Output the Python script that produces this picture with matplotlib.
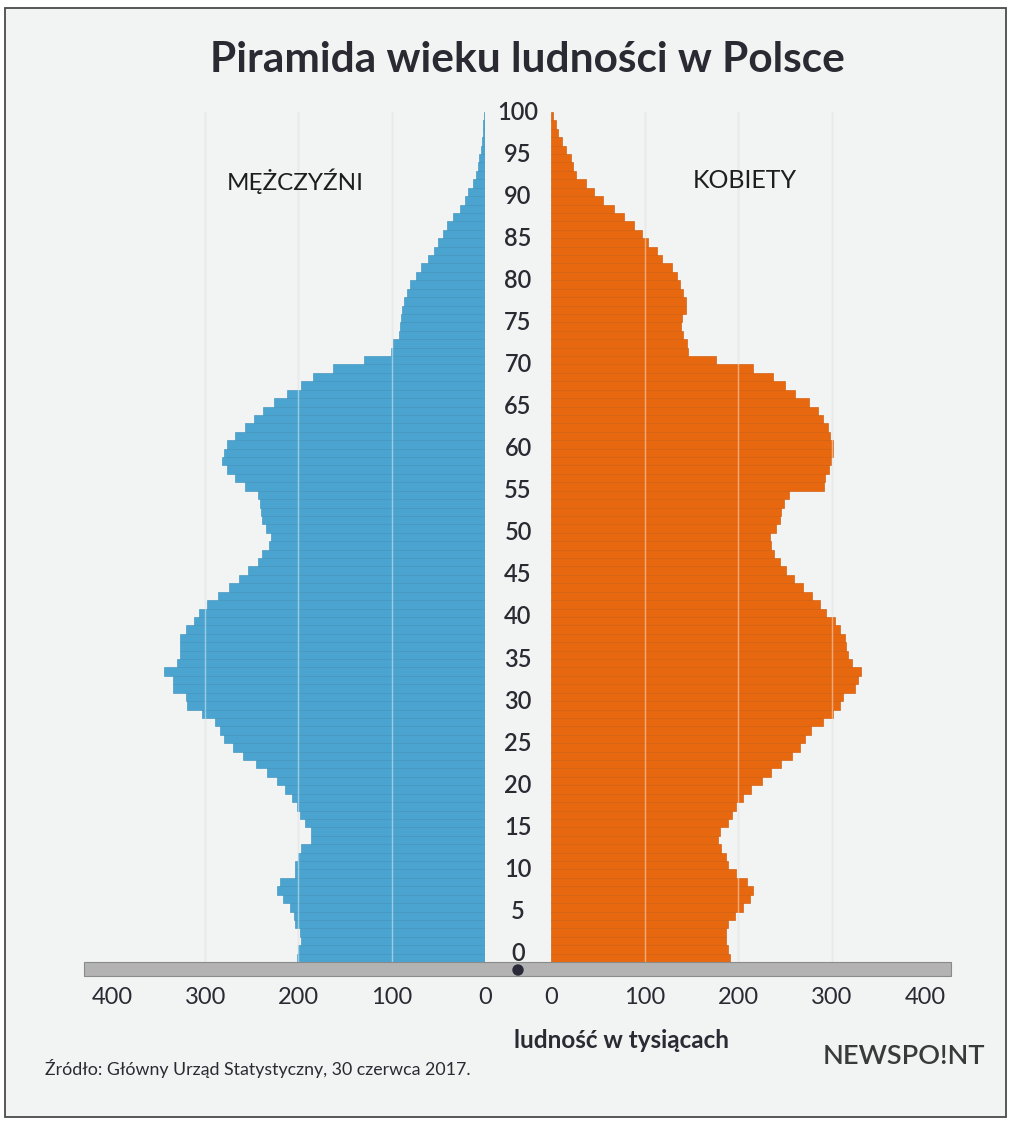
import numpy as np
import matplotlib.pyplot as plt
from matplotlib.patches import Rectangle, Circle
from matplotlib.transforms import blended_transform_factory

plt.rcParams['font.family'] = ['Lato', 'DejaVu Sans']

# wiek 0..100
ages = list(range(0, 101))

# ludnosc w tysiacach (odczyt z wykresu), wiek 0..100
men = [202, 200, 197, 198, 204, 205, 209, 217, 223, 220,
       204, 204, 200, 197, 187, 187, 193, 198, 202, 207,
       214, 223, 234, 246, 259, 270, 280, 284, 290, 303,
       320, 321, 335, 335, 344, 330, 327, 327, 327, 321,
       312, 307, 298, 286, 275, 264, 254, 243, 239, 232,
       230, 235, 239, 240, 241, 243, 257, 268, 277, 282,
       280, 277, 268, 257, 248, 238, 226, 212, 197, 184,
       163, 130, 101, 99, 92, 91, 90, 89, 87, 84,
       80, 74, 69, 61, 55, 50, 45, 41, 34, 27,
       21, 18, 12.5, 10, 8, 6, 4.5, 3.5, 2.5, 1.8,
       1]
women = [191, 189, 187, 187, 189, 196, 205, 212, 216, 209,
         198, 189, 187, 182, 178, 180, 189, 193, 198, 205,
         214, 225, 235, 246, 257, 266, 271, 278, 290, 301,
         308, 312, 324, 328, 331, 321, 317, 315, 314, 308,
         303, 294, 287, 279, 269, 259, 251, 244, 238, 235,
         234, 240, 244, 246, 249, 254, 291, 292, 297, 299,
         301, 301, 298, 296, 290, 285, 275, 260, 250, 237,
         216, 176, 146, 145, 141, 139, 140, 144, 144, 141,
         138, 134, 129, 119, 113, 104, 97, 89, 78, 67,
         56, 46, 37, 27, 24, 21, 16, 12, 8, 5,
         2]

age_ticks = list(range(0, 101, 5))
x_ticks = [0, 100, 200, 300, 400]
grid_vals = [100, 200, 300]

BG = '#f2f3f3'
BLUE = '#4ba4cf'
ORANGE = '#e8680f'
TXT = '#2b2a33'
W, H = 1011, 1121


def box(x0, y0, x1, y1):
    return [x0 / W, 1 - y1 / H, (x1 - x0) / W, (y1 - y0) / H]


fig = plt.figure(figsize=(W / 100, H / 100), dpi=100)
fig.patch.set_facecolor('white')
fig.patches.append(Rectangle((0.005, 0.004), 0.99, 0.989, transform=fig.transFigure,
                             facecolor=BG, edgecolor='#4a4a4a', lw=1.3, zorder=-10))

axL = fig.add_axes(box(84, 112, 485, 962))
axR = fig.add_axes(box(551, 112, 951, 962))

for ax, vals, col, edge in [(axL, men, BLUE, '#4194be'), (axR, women, ORANGE, '#cf5d0d')]:
    ax.barh(ages, vals, height=1.0, color=col, edgecolor=edge, linewidth=0.45, zorder=2)
    ax.set_ylim(-0.5, 100.5)
    ax.patch.set_visible(False)
    for s in ax.spines.values():
        s.set_visible(False)
    ax.set_yticks([])
    ax.set_xticks(x_ticks)
    ax.set_xticklabels([str(t) for t in x_ticks])
    ax.tick_params(axis='x', length=0, pad=18, labelsize=17, labelcolor=TXT)
    for g in grid_vals:
        ax.axvline(g, color='#d8d8d8', lw=1, zorder=1)
        ax.axvline(g, color='white', lw=1, alpha=0.45, zorder=3)

axL.set_xlim(430, 0)
axR.set_xlim(0, 427)

# etykiety wieku w srodku
trans = blended_transform_factory(fig.transFigure, axR.transData)
for k in age_ticks:
    fig.text(518 / W, k + 0.5, str(k), transform=trans, ha='center', va='center',
             fontsize=17, fontweight='semibold', color=TXT)

ov = fig.add_axes([0, 0, 1, 1])
ov.set_xlim(0, W)
ov.set_ylim(H, 0)
ov.axis('off')
ov.patch.set_visible(False)

ov.add_patch(Rectangle((84, 962), 867, 14, facecolor='#b3b3b3', edgecolor='#8a8a8a', lw=0.8))
ov.add_patch(Circle((518, 970), 5, color='#2a2a3a'))

ov.text(527, 60, 'Piramida wieku ludności w Polsce', ha='center', va='center',
        fontsize=30.5, fontweight='bold', color=TXT)
ov.text(295, 181, 'MĘŻCZYŹNI', ha='center', va='center', fontsize=17.5, color='#1e1e1e')
ov.text(745, 181, 'KOBIETY', ha='center', va='center', fontsize=18, color='#1e1e1e')
ov.text(622, 1040, 'ludność w tysiącach', ha='center', va='center', fontsize=17.5,
        fontweight='bold', color=TXT)
ov.text(45, 1068, 'Źródło: Główny Urząd Statystyczny, 30 czerwca 2017.', ha='left',
        va='center', fontsize=12.8, color=TXT)
ov.text(985, 1057, 'NEWSPO!NT', ha='right', va='center', fontsize=19.5,
        fontweight='semibold', color='#3a3a3a')

fig.savefig('out.png', dpi=100, facecolor=fig.get_facecolor())
